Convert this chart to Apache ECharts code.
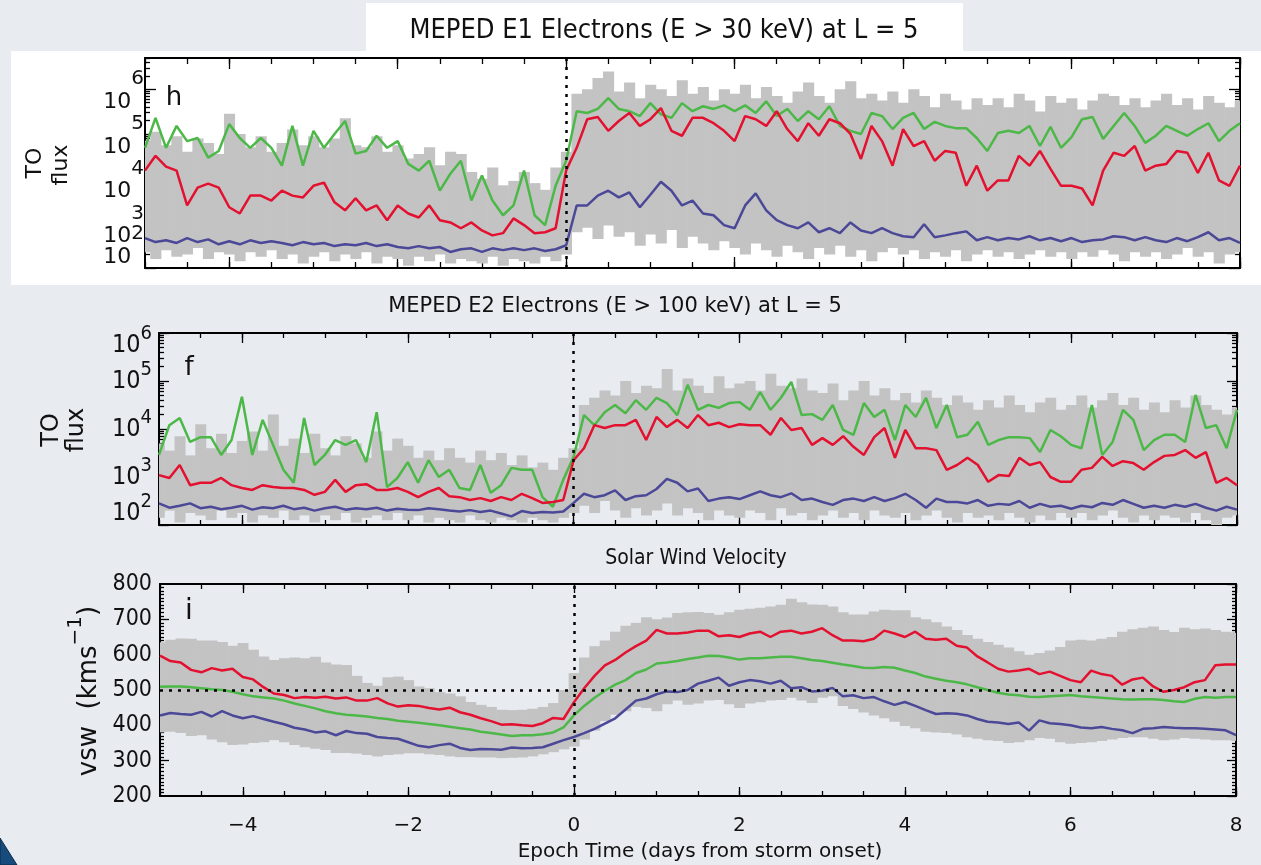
<!DOCTYPE html>
<html>
<head>
<meta charset="utf-8">
<title>MEPED electrons and solar wind velocity, superposed epoch</title>
<script src="https://cdn.jsdelivr.net/npm/echarts@6/dist/echarts.min.js"></script>
<style>
  html, body { margin: 0; padding: 0; background: #e8ebf0; }
  #chart { width: 1261px; height: 865px; }
</style>
</head>
<body>
<div id="chart"></div>
<script>
// Superposed-epoch statistics, 3-hour bins from -5 to +8 days around storm onset.
// Each row below is one day (8 bins); the last value is the bin at +8 days.
const T_START = -5;
const T_STEP = 0.125;

// ---- MEPED E1 (E > 30 keV), log10 of trapped-orbit flux ----
const E1_UPPER = [
  4.85,5.05,4.75,4.95,4.60,4.90,4.80,4.55,
  5.45,5.00,4.70,4.95,4.60,4.80,5.10,4.75,
  4.95,4.70,4.90,5.35,4.75,4.70,4.95,4.60,
  4.75,4.45,4.55,4.70,4.30,4.60,4.55,4.15,
  4.00,4.25,3.85,3.95,4.15,3.90,3.75,4.25,
  4.60,5.90,6.00,6.25,6.40,5.95,6.15,5.80,
  6.10,6.00,5.85,6.20,5.90,6.05,5.75,6.00,
  5.90,6.10,5.80,6.05,5.85,5.70,5.95,6.15,
  5.85,5.70,6.00,6.18,5.80,5.90,5.75,5.95,
  5.70,6.00,5.85,5.60,5.90,5.75,5.55,5.80,
  5.65,5.80,5.60,5.90,5.75,5.50,5.85,5.70,
  5.80,5.55,5.75,5.90,5.85,5.65,5.80,5.60,
  5.75,5.90,5.65,5.80,5.55,5.85,5.70,5.60,
  5.75];
const E1_LOWER = [
  2.35,2.20,2.40,2.25,2.30,2.45,2.20,2.35,
  2.30,2.15,2.35,2.25,2.40,2.20,2.30,2.10,
  2.25,2.35,2.15,2.30,2.20,2.35,2.10,2.25,
  2.20,2.05,2.25,2.15,2.30,2.10,2.20,2.15,
  2.10,2.25,2.05,2.20,2.15,2.10,2.25,2.15,
  2.30,2.80,2.90,2.65,2.95,2.70,2.80,2.50,
  2.75,2.55,2.85,2.45,2.70,2.55,2.40,2.60,
  2.45,2.30,2.55,2.40,2.25,2.50,2.35,2.20,
  2.45,2.30,2.50,2.25,2.40,2.15,2.35,2.45,
  2.30,2.40,2.20,2.35,2.25,2.40,2.15,2.30,
  2.40,2.25,2.35,2.20,2.30,2.40,2.25,2.35,
  2.20,2.35,2.25,2.40,2.30,2.15,2.35,2.25,
  2.35,2.20,2.30,2.45,2.25,2.35,2.10,2.30,
  2.35];
const E1_GREEN = [
  4.69,5.36,4.69,5.18,4.84,4.91,4.47,4.62,
  5.22,4.91,4.69,4.91,4.69,4.29,5.18,4.29,
  5.07,4.69,5.00,5.29,4.56,4.62,4.96,4.69,
  4.84,4.33,4.18,4.40,3.73,4.11,4.40,3.51,
  4.07,3.51,3.18,3.40,4.18,3.18,2.96,3.84,
  4.40,5.51,5.47,5.56,5.80,5.56,5.51,5.40,
  5.69,5.44,5.36,5.69,5.51,5.62,5.56,5.64,
  5.51,5.64,5.47,5.73,5.40,5.56,5.29,5.51,
  5.33,5.62,5.18,5.07,5.00,5.47,5.40,5.11,
  5.36,5.47,5.11,5.27,5.18,5.13,5.13,4.91,
  4.62,5.02,5.07,5.02,5.18,4.73,5.16,4.69,
  4.93,5.33,5.38,4.89,5.18,5.47,5.18,4.80,
  4.96,5.18,5.07,4.96,5.11,5.24,4.84,5.07,
  5.24];
const E1_RED = [
  4.18,4.51,4.27,4.18,3.40,3.80,3.89,3.80,
  3.36,3.22,3.62,3.62,3.51,3.73,3.62,3.58,
  3.84,3.91,3.47,3.29,3.56,3.29,3.40,3.07,
  3.40,3.22,3.13,3.40,3.07,3.02,2.89,3.02,
  2.84,2.73,2.78,3.11,2.96,2.78,2.80,2.89,
  4.18,4.69,5.33,5.38,5.07,5.29,5.47,5.18,
  5.33,5.58,5.07,4.96,5.36,5.36,5.24,5.07,
  4.84,5.40,5.33,5.18,5.51,5.11,4.84,5.24,
  4.96,5.33,5.24,5.00,4.44,5.18,4.84,4.29,
  5.11,4.73,4.84,4.40,4.62,4.58,3.84,4.29,
  3.73,3.96,3.96,4.51,4.29,4.62,4.22,3.84,
  3.84,3.78,3.40,4.18,4.58,4.51,4.73,4.18,
  4.29,4.33,4.62,4.58,4.13,4.58,3.96,3.84,
  4.29];
const E1_BLUE = [
  2.67,2.58,2.62,2.56,2.67,2.58,2.64,2.53,
  2.60,2.53,2.62,2.56,2.60,2.56,2.51,2.58,
  2.53,2.56,2.49,2.53,2.51,2.56,2.49,2.53,
  2.47,2.44,2.49,2.44,2.47,2.36,2.42,2.44,
  2.36,2.44,2.40,2.44,2.40,2.44,2.38,2.42,
  2.51,3.40,3.40,3.62,3.73,3.58,3.69,3.36,
  3.64,3.93,3.73,3.40,3.51,3.22,3.18,2.96,
  2.89,3.40,3.67,3.29,3.07,2.96,2.89,3.02,
  2.80,2.89,2.78,3.02,2.84,2.78,2.89,2.78,
  2.71,2.69,2.98,2.69,2.73,2.78,2.82,2.62,
  2.69,2.62,2.67,2.64,2.71,2.62,2.67,2.60,
  2.67,2.58,2.62,2.64,2.71,2.69,2.62,2.69,
  2.62,2.58,2.67,2.60,2.69,2.80,2.62,2.67,
  2.56];

// ---- MEPED E2 (E > 100 keV), log10 of trapped-orbit flux ----
const E2_UPPER = [
  3.70,3.55,3.85,3.45,4.10,3.60,3.90,3.50,
  3.75,3.95,3.55,4.30,3.65,3.80,3.50,3.90,
  3.60,3.45,3.85,3.70,3.40,3.95,3.55,3.80,
  3.65,3.40,3.55,3.35,3.60,3.40,3.30,3.55,
  3.35,3.50,3.25,3.45,3.20,3.30,3.15,3.40,
  3.60,4.50,4.65,4.80,4.70,5.00,4.75,4.90,
  4.85,5.25,4.80,5.05,4.90,4.75,5.10,4.85,
  4.95,5.00,4.80,5.15,4.90,4.85,5.05,4.80,
  4.75,4.95,4.60,4.80,5.00,4.70,4.85,4.60,
  4.75,4.55,4.80,4.65,4.50,4.70,4.55,4.40,
  4.60,4.45,4.70,4.50,4.35,4.55,4.65,4.40,
  4.50,4.70,4.45,4.60,4.75,4.50,4.65,4.40,
  4.55,4.35,4.60,4.45,4.70,4.50,4.40,4.30,
  4.45];
const E2_LOWER = [
  2.15,2.30,2.05,2.25,2.20,2.10,2.30,2.15,
  2.25,2.05,2.20,2.15,2.30,2.10,2.20,2.05,
  2.20,2.10,2.25,2.05,2.15,2.20,2.10,2.25,
  2.10,2.20,2.05,2.15,2.10,2.05,2.20,2.10,
  2.05,2.15,2.10,2.05,2.15,2.10,2.05,2.15,
  2.25,2.40,2.25,2.50,2.30,2.15,2.35,2.20,
  2.30,2.45,2.20,2.35,2.25,2.10,2.30,2.20,
  2.15,2.30,2.25,2.10,2.35,2.20,2.25,2.10,
  2.20,2.30,2.15,2.25,2.10,2.30,2.20,2.15,
  2.25,2.10,2.20,2.30,2.15,2.05,2.25,2.15,
  2.20,2.10,2.25,2.15,2.05,2.20,2.10,2.25,
  2.15,2.25,2.10,2.20,2.30,2.15,2.05,2.20,
  2.10,2.20,2.15,2.05,2.25,2.10,2.00,2.15,
  2.20];
const E2_GREEN = [
  3.46,4.08,4.23,3.73,3.83,3.83,3.46,3.77,
  4.67,3.46,4.19,3.67,3.15,2.88,4.23,3.25,
  3.46,3.77,3.67,3.77,3.31,4.35,2.79,2.98,
  3.31,2.88,3.35,3.00,3.15,2.77,2.73,3.25,
  2.67,2.83,3.19,3.15,3.15,2.58,2.38,2.94,
  3.42,4.29,4.08,4.35,4.50,4.33,4.60,4.40,
  4.65,4.54,4.29,4.92,4.40,4.50,4.44,4.54,
  4.56,4.40,4.77,4.40,4.65,4.98,4.29,4.31,
  4.19,4.50,3.98,3.88,4.54,4.25,4.40,3.77,
  4.50,4.25,4.65,4.02,4.50,3.83,3.88,4.15,
  3.67,3.77,3.83,3.83,3.81,3.52,3.98,3.85,
  3.67,3.60,4.50,3.46,3.73,4.40,4.19,3.56,
  3.77,3.88,3.88,3.73,4.71,4.02,4.08,3.60,
  4.40];
const E2_RED = [
  3.04,2.98,3.25,2.83,2.88,2.88,2.98,2.83,
  2.77,2.73,2.83,2.79,2.77,2.77,2.73,2.63,
  2.69,2.94,2.69,2.83,2.85,2.73,2.73,2.77,
  2.69,2.58,2.69,2.77,2.60,2.58,2.52,2.56,
  2.50,2.58,2.52,2.65,2.56,2.46,2.48,2.52,
  3.35,3.60,4.08,4.02,4.08,4.08,4.19,3.77,
  4.25,4.04,4.19,4.02,4.29,4.08,4.13,4.04,
  4.10,4.08,4.08,3.88,4.23,3.98,4.02,3.67,
  3.81,3.67,3.85,3.63,3.46,3.83,4.02,3.40,
  3.98,3.60,3.60,3.56,3.15,3.25,3.40,3.25,
  2.90,3.04,3.02,3.40,3.25,3.31,3.00,2.90,
  2.90,3.15,3.19,3.42,3.23,3.33,3.29,3.15,
  3.31,3.44,3.46,3.56,3.40,3.52,2.88,2.98,
  2.83];
const E2_BLUE = [
  2.45,2.36,2.40,2.45,2.35,2.38,2.33,2.36,
  2.40,2.32,2.37,2.35,2.40,2.33,2.36,2.30,
  2.35,2.38,2.32,2.35,2.33,2.36,2.30,2.34,
  2.32,2.31,2.35,2.33,2.30,2.28,2.31,2.27,
  2.30,2.24,2.18,2.29,2.25,2.27,2.26,2.28,
  2.46,2.65,2.58,2.62,2.72,2.52,2.60,2.62,
  2.75,2.96,2.88,2.70,2.76,2.50,2.55,2.58,
  2.54,2.62,2.70,2.62,2.58,2.66,2.52,2.55,
  2.48,2.42,2.52,2.55,2.50,2.58,2.50,2.56,
  2.65,2.52,2.36,2.55,2.48,2.48,2.45,2.52,
  2.40,2.44,2.42,2.50,2.36,2.44,2.38,2.40,
  2.34,2.40,2.37,2.46,2.42,2.52,2.44,2.36,
  2.40,2.36,2.42,2.38,2.44,2.36,2.30,2.38,
  2.32];

// ---- Solar wind speed, km/s ----
const VSW_UPPER = [
  635,642,646,645,640,640,636,625,
  633,614,595,585,590,592,590,594,
  578,572,571,540,520,512,536,538,
  528,510,505,494,490,482,466,458,
  452,444,443,444,447,452,463,500,
  548,592,624,640,665,682,690,706,
  700,705,718,720,721,718,713,720,
  727,730,733,736,741,758,748,742,
  741,736,720,714,714,722,727,726,
  726,706,700,692,680,670,656,645,
  636,628,620,610,600,605,612,622,
  640,642,640,645,650,665,672,676,
  680,670,664,676,672,674,670,665,
  662];
const VSW_LOWER = [
  380,382,378,370,372,360,352,344,
  346,350,352,358,352,344,338,334,
  330,322,322,320,316,312,316,318,
  321,321,318,316,312,310,310,309,
  309,307,308,309,312,318,324,332,
  340,360,385,412,430,440,452,449,
  440,460,470,458,462,470,472,460,
  449,462,465,470,472,478,470,463,
  478,482,455,446,436,428,420,410,
  398,392,382,380,378,374,366,362,
  358,356,350,352,358,364,362,352,
  348,350,352,356,360,364,366,366,
  362,358,360,364,362,360,358,358,
  356];
const VSW_RED = [
  597,582,578,557,550,562,555,560,
  537,530,508,490,486,477,480,478,
  481,476,479,470,470,477,462,453,
  457,455,449,445,450,437,430,420,
  412,402,403,400,398,406,421,418,
  465,505,540,570,585,606,624,640,
  670,660,660,663,668,668,652,655,
  650,660,665,650,665,668,660,665,
  675,655,640,640,638,645,668,660,
  650,665,645,642,645,625,620,595,
  578,560,552,555,560,545,552,540,
  528,522,555,545,540,515,530,535,
  510,495,500,508,522,528,570,572,
  572];
const VSW_GREEN = [
  509,510,510,508,505,502,500,495,
  488,482,479,476,470,462,455,448,
  440,434,430,428,425,421,418,413,
  410,407,404,400,396,392,388,382,
  378,374,370,372,372,375,380,394,
  428,455,478,498,515,528,548,558,
  575,578,582,588,592,597,596,592,
  586,590,590,592,594,594,590,585,
  582,577,572,568,563,562,565,563,
  555,548,538,532,526,522,516,508,
  500,492,487,485,481,480,482,484,
  486,482,480,478,476,474,473,474,
  474,472,468,466,475,480,478,480,
  480];
const VSW_BLUE = [
  428,435,432,430,438,425,440,428,
  420,426,418,410,403,393,388,380,
  383,372,384,378,376,367,364,362,
  352,342,338,344,348,336,330,333,
  332,331,337,335,336,338,348,358,
  367,378,390,405,420,445,470,476,
  488,496,494,500,518,526,535,512,
  522,528,525,518,526,505,508,496,
  498,506,482,485,477,480,468,458,
  466,455,443,432,434,433,428,418,
  410,408,404,408,385,414,406,404,
  400,394,392,395,390,386,378,390,
  392,395,393,392,392,390,388,386,
  372];

// Axis tick labels
const X_LABELS = [-4, -2, 0, 2, 4, 6, 8];
const FLUX_DECADES = [2, 3, 4, 5, 6];
const VSW_TICKS = [200, 300, 400, 500, 600, 700, 800];

// Colours and fonts
const GREEN = '#4cb848';
const RED = '#e3112f';
const BLUE = '#4b4898';
const GRAY = '#c3c3c3';
const INK = '#111111';
const SANS = "'DejaVu Sans', 'Liberation Sans', sans-serif";
const COND = "'DejaVu Sans Condensed', 'DejaVu Sans', sans-serif";

const TIME = E1_GREEN.map((_, i) => T_START + i * T_STEP);

function linePoints(values) { return values.map((v, i) => [TIME[i], v]); }
function bandPoints(lo, hi) { return lo.map((v, i) => [TIME[i], v, hi[i]]); }

// log10 minor tick positions (2..9 within each decade)
function logMinorTicks(lo, hi) {
  const out = [];
  for (let n = Math.floor(lo); n < hi; n++) {
    for (let k = 2; k < 10; k++) {
      const v = n + Math.log10(k);
      if (v > lo && v < hi) out.push(v);
    }
  }
  return out;
}

// Grey spread drawn as one bar per time bin, from lower to upper value
function renderBand(params, api) {
  const t = api.value(0);
  const a = api.coord([t - T_STEP / 2, api.value(2)]);
  const b = api.coord([t + T_STEP / 2, api.value(1)]);
  const cs = params.coordSys;
  const shape = echarts.graphic.clipRectByRect(
    { x: a[0], y: a[1], width: b[0] - a[0] + 0.6, height: b[1] - a[1] },
    { x: cs.x, y: cs.y, width: cs.width, height: cs.height });
  return shape && { type: 'rect', shape: shape, style: { fill: GRAY } };
}

const GRIDS = [
  { left: 145, top: 58, width: 1095, height: 210 },
  { left: 159, top: 333, width: 1078, height: 192 },
  { left: 160, top: 584, width: 1076, height: 212 }
];

const FRAME = { color: '#000', width: 2 };
const TICK = { color: '#000', width: 1.3 };

function minusSign(v) { return v < 0 ? '\u2212' + (-v) : String(v); }

function xAxesFor(g, showLabels, majorLen, minorLen) {
  const base = { type: 'value', gridIndex: g, min: -5, max: 8, splitLine: { show: false } };
  const out = [];
  ['bottom', 'top'].forEach(pos => {
    out.push(Object.assign({}, base, {
      position: pos,
      axisLine: { show: true, onZero: false, lineStyle: FRAME },
      axisTick: { show: true, inside: true, length: majorLen, customValues: X_LABELS, lineStyle: TICK },
      axisLabel: (pos === 'bottom' && showLabels) ? {
        show: true, customValues: X_LABELS, formatter: minusSign, margin: 20,
        showMinLabel: true, showMaxLabel: true, hideOverlap: false,
        color: INK, fontFamily: SANS, fontSize: 20
      } : { show: false }
    }));
    out.push(Object.assign({}, base, {
      position: pos, interval: 0.5,
      axisLine: { show: false, onZero: false },
      axisTick: { show: true, inside: true, length: minorLen, lineStyle: TICK },
      axisLabel: { show: false }
    }));
  });
  return out;
}

const LABEL_BASE = { showMinLabel: true, showMaxLabel: true, hideOverlap: false };

// Two left axes share the frame: the first carries the major ticks, the second the
// minor ticks. Tick labels may be split between them so that tall labels never collide.
function yAxesFor(g, cfg) {
  const base = { type: 'value', gridIndex: g, min: cfg.min, max: cfg.max, splitLine: { show: false } };
  return [
    Object.assign({}, base, {
      position: 'left',
      axisLine: { show: true, onZero: false, lineStyle: FRAME },
      axisTick: { show: true, inside: true, length: cfg.majorLen, customValues: cfg.leftMajor, lineStyle: TICK },
      axisLabel: Object.assign({}, LABEL_BASE, cfg.label)
    }),
    Object.assign({}, base, {
      position: 'left',
      axisLine: { show: false, onZero: false },
      axisTick: { show: true, inside: true, length: cfg.minorLen, customValues: cfg.minor, lineStyle: TICK },
      axisLabel: cfg.label2 ? Object.assign({}, LABEL_BASE, cfg.label2) : { show: false }
    }),
    Object.assign({}, base, {
      position: 'right',
      axisLine: { show: true, onZero: false, lineStyle: FRAME },
      axisTick: { show: true, inside: true, length: cfg.majorLen, customValues: cfg.rightMajor, lineStyle: TICK },
      axisLabel: { show: false }
    }),
    Object.assign({}, base, {
      position: 'right',
      axisLine: { show: false, onZero: false },
      axisTick: { show: true, inside: true, length: cfg.minorLen, customValues: cfg.minor, lineStyle: TICK },
      axisLabel: { show: false }
    })
  ];
}

// "10" with a raised exponent; end labels get an extra blank line to pull them inside the frame
function decadeLabel(min, max, gapBelowMin, gapAboveMax) {
  return v => {
    const e = Math.round(v);
    const txt = '{b|10}{s|' + e + '}';
    if (e === min && gapBelowMin) return txt + '\n{gap| }';
    if (e === max && gapAboveMax) return '{gap| }\n' + txt;
    return txt;
  };
}

const FLUX1_RICH = {
  b: { fontFamily: SANS, fontSize: 22, lineHeight: 44, verticalAlign: 'bottom', color: INK },
  s: { fontFamily: SANS, fontSize: 20, verticalAlign: 'top', color: INK },
  gap: { fontSize: 2, lineHeight: 48 }
};
const yFlux1 = {
  min: 2, max: 6.7, majorLen: 11, minorLen: 5,
  leftMajor: FLUX_DECADES, rightMajor: FLUX_DECADES, minor: logMinorTicks(2, 6.7),
  label: {
    show: true, customValues: [3, 5], margin: 1, padding: [4, 0, 0, 0],
    formatter: decadeLabel(2, 6, true, false), rich: FLUX1_RICH
  },
  label2: {
    show: true, customValues: [2, 4, 6], margin: 1, padding: [4, 0, 0, 0],
    formatter: decadeLabel(2, 6, true, false), rich: FLUX1_RICH
  }
};
const yFlux2 = {
  min: 2, max: 6, majorLen: 10, minorLen: 5,
  leftMajor: FLUX_DECADES, rightMajor: FLUX_DECADES, minor: logMinorTicks(2, 6),
  label: {
    show: true, customValues: FLUX_DECADES, margin: 7, padding: [0, 0, 8, 0],
    formatter: decadeLabel(2, 6, true, true),
    rich: {
      b: { fontFamily: COND, fontSize: 25, lineHeight: 34, verticalAlign: 'bottom', color: INK },
      s: { fontFamily: COND, fontSize: 20, verticalAlign: 'top', color: INK },
      gap: { fontSize: 2, lineHeight: 24 }
    }
  }
};
const yVsw = {
  min: 200, max: 800, majorLen: 9, minorLen: 4,
  leftMajor: [300, 700], rightMajor: VSW_TICKS,
  minor: VSW_TICKS.slice(0, -1).flatMap(v => [1, 2, 3, 4, 5, 6, 7, 8, 9].map(k => v + 10 * k)),
  label: {
    show: true, customValues: VSW_TICKS, margin: 8,
    color: INK, fontFamily: COND, fontSize: 23
  }
};

const DOTTED = { color: '#000', type: [3, 6], width: 2.5 };

function panelSeries(g, lo, hi, green, red, blue, marks) {
  const ax = g * 4;
  const line = (vals, color) => ({
    type: 'line', xAxisIndex: ax, yAxisIndex: ax, data: linePoints(vals),
    showSymbol: false, symbol: 'none', silent: true, z: 3,
    lineStyle: { color: color, width: 2.5 }, itemStyle: { color: color }
  });
  const s = [
    { type: 'custom', xAxisIndex: ax, yAxisIndex: ax, data: bandPoints(lo, hi),
      encode: { x: 0, y: [1, 2] }, renderItem: renderBand, silent: true, z: 2 },
    line(green, GREEN), line(red, RED), line(blue, BLUE)
  ];
  s[3].markLine = {
    silent: true, symbol: 'none', animation: false, label: { show: false },
    lineStyle: DOTTED, data: marks
  };
  return s;
}

const text = (x, y, str, font, extra) => Object.assign({
  type: 'text', x: x, y: y, z: 20,
  style: Object.assign({ text: str, font: font, fill: INK, textAlign: 'center', textVerticalAlign: 'middle' },
    extra && extra.style)
}, extra && extra.el);

const option = {
  backgroundColor: '#e8ebf0',
  animation: false,
  grid: GRIDS.map(g => Object.assign({ show: false, outerBoundsMode: 'none', containLabel: false }, g)),
  xAxis: [].concat(xAxesFor(0, false, 11, 6), xAxesFor(1, false, 10, 5), xAxesFor(2, true, 9, 5)),
  yAxis: [].concat(yAxesFor(0, yFlux1), yAxesFor(1, yFlux2), yAxesFor(2, yVsw)),
  series: [].concat(
    panelSeries(0, E1_LOWER, E1_UPPER, E1_GREEN, E1_RED, E1_BLUE, [{ xAxis: 0 }]),
    panelSeries(1, E2_LOWER, E2_UPPER, E2_GREEN, E2_RED, E2_BLUE, [{ xAxis: 0 }]),
    panelSeries(2, VSW_LOWER, VSW_UPPER, VSW_GREEN, VSW_RED, VSW_BLUE, [{ xAxis: 0 }, { yAxis: 500 }])
  ),
  graphic: [
    // white backing of the E1 panel and its title strip
    { type: 'rect', z: -10, shape: { x: 11, y: 51, width: 1250, height: 234 }, style: { fill: '#ffffff' } },
    { type: 'rect', z: -10, shape: { x: 366, y: 3, width: 597, height: 48 }, style: { fill: '#ffffff' } },
    // corner of the page ornament
    { type: 'polygon', z: -5, shape: { points: [[0, 838], [17, 865], [0, 865]] },
      style: { fill: '#174b7d', stroke: '#0c2a47', lineWidth: 1 } },

    text(664, 31, 'MEPED E1 Electrons (E > 30 keV) at L = 5', '27px ' + COND),
    text(615, 307, 'MEPED E2 Electrons (E > 100 keV) at L = 5', '21px ' + SANS),
    text(696, 559, 'Solar Wind Velocity', '21px ' + COND),
    text(700, 852, 'Epoch Time (days from storm onset)', '20px ' + SANS),

    text(35, 163, 'TO', '22px ' + SANS, { el: { rotation: Math.PI / 2 } }),
    text(61, 165, 'flux', '22px ' + SANS, { el: { rotation: Math.PI / 2 } }),
    text(52, 430, 'TO', '24px ' + SANS, { el: { rotation: Math.PI / 2 } }),
    text(77, 430, 'flux', '24px ' + SANS, { el: { rotation: Math.PI / 2 } }),
    {
      type: 'text', x: 84, y: 691, z: 20, rotation: Math.PI / 2,
      style: {
        text: '{a|vsw  (kms}{s|\u22121}{a|)}',
        textAlign: 'center', textVerticalAlign: 'middle', fill: INK,
        rich: {
          a: { fontFamily: SANS, fontSize: 26, lineHeight: 36, verticalAlign: 'bottom', color: INK },
          s: { fontFamily: SANS, fontSize: 20, verticalAlign: 'top', color: INK }
        }
      }
    },

    text(174, 98, 'h', '26px ' + SANS),
    text(189, 368, 'f', '26px ' + SANS),
    text(189, 612, 'i', '28px ' + SANS)
  ]
};

const chart = echarts.init(document.getElementById('chart'), null, { renderer: 'canvas' });
chart.setOption(option);
</script>
</body>
</html>
